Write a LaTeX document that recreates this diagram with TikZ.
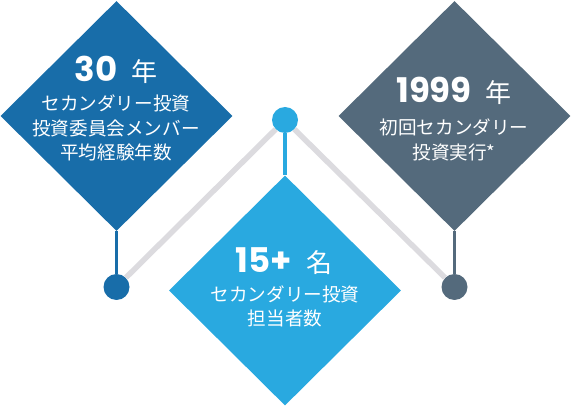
\documentclass[tikz,border=0pt]{standalone}
\usepackage{fontspec}
\setmainfont{Poppins}
\newfontfamily\jpfont{Noto Sans CJK JP}
\usepackage{tikz}
\usetikzlibrary{shapes.geometric}
\definecolor{blueL}{HTML}{186DA9}
\definecolor{blueC}{HTML}{29A9E0}
\definecolor{grayR}{HTML}{546A7C}
\definecolor{linkgray}{HTML}{DCDBDF}
\tikzstyle{diam}=[diamond,minimum width=232pt,minimum height=230pt,inner sep=0pt,draw=none]
\tikzstyle{dot}=[circle,minimum size=26pt,inner sep=0pt,draw=none]
\tikzstyle{stem}=[draw,line width=3.5pt,-]
\tikzstyle{edge}=[draw,line width=5.5pt,linkgray,-]
\tikzstyle{head}=[text=white,anchor=base,inner sep=0pt]
\tikzstyle{body}=[text=white,align=center,inner sep=0pt,font=\jpfont\fontsize{18.6}{24.5}\selectfont]
\newcommand{\bignum}[2]{{\fontsize{34}{34}\selectfont\bfseries #1}\hspace{14pt}{\jpfont\fontsize{26}{26}\selectfont #2}}

\begin{document}
\begin{tikzpicture}[x=1pt,y=-1pt]
        \useasboundingbox (0,0) rectangle (571,406);
        \node[diam,fill=blueL] (years) at (116.5,116) {};
        \node[diam,fill=blueC] (staff) at (285,290.5) {};
        \node[diam,fill=grayR] (first) at (454.5,116) {};
        \node[dot,fill=blueL] (dotL) at (116.5,287) {};
        \node[dot,fill=blueC] (dotC) at (285,120) {};
        \node[dot,fill=grayR] (dotR) at (454.5,287) {};
        \draw[edge] (dotC) to (dotL);
        \draw[edge] (dotC) to (dotR);
        \draw[stem,blueL] (years.south) to (dotL);
        \draw[stem,blueC] (dotC) to (staff.north);
        \draw[stem,grayR] (first.south) to (dotR);
        \node[head] (yearsH) at (116,82) {\bignum{30}{年}};
        \node[body] (yearsT) at (116,128) {セカンダリー投資\\投資委員会メンバー\\平均経験年数};
        \node[head] (firstH) at (454,103) {\bignum{1999}{年}};
        \node[body] (firstT) at (454,140) {初回セカンダリー\\投資実行*};
        \node[head] (staffH) at (284,273) {\bignum{15+}{名}};
        \node[body] (staffT) at (285,306.5) {セカンダリー投資\\担当者数};
      \end{tikzpicture}
\end{document}
